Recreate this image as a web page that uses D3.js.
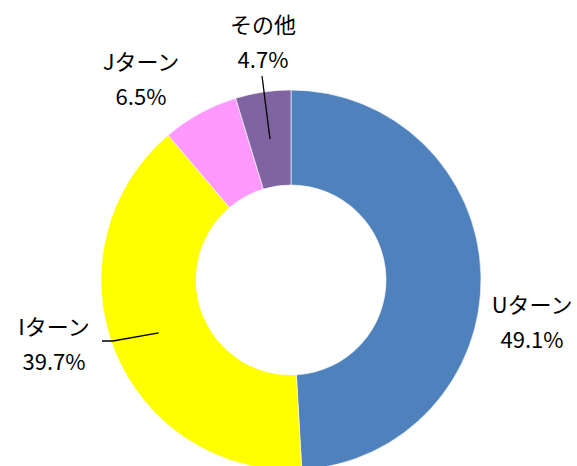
<!DOCTYPE html>
<html>
<head>
<meta charset="utf-8">
<script src="https://cdn.jsdelivr.net/npm/d3@7"></script>
<style>
  html, body { margin: 0; padding: 0; background: #fff; }
  svg text { font-family: "Noto Sans CJK JP", "Noto Sans", sans-serif; fill: #000; }
</style>
</head>
<body>
<div id="chart"></div>
<script>
// --- data ---
const categories = ["Uターン", "Iターン", "Jターン", "その他"];
const shares     = [49.1, 39.7, 6.5, 4.7];
const colors     = ["#4F81BD", "#FFFF00", "#FF99FF", "#8064A2"];

const width = 577, height = 466;
const cx = 291, cy = 280;
const outerR = 190, innerR = 95;

// where each label block sits (relative to the centre), and leader line elbows
const labelAt = [
  {x: 241, y: 40,   line: null},
  {x: -237, y: 62,  line: [[-178, 61], [-189, 61]]},
  {x: -150, y: -203, line: null},
  {x: -28, y: -240, line: [[-29, -204]]}
];

const svg = d3.select("#chart").append("svg")
  .attr("width", width).attr("height", height);

const g = svg.append("g").attr("transform", `translate(${cx},${cy})`);

const pie = d3.pie().sort(null).value(d => d);
const arcs = pie(shares);
const arc = d3.arc().innerRadius(innerR).outerRadius(outerR);

g.selectAll("path.slice")
  .data(arcs)
  .join("path")
    .attr("class", "slice")
    .attr("d", arc)
    .attr("fill", (d, i) => colors[i])
    .attr("stroke", "#fff")
    .attr("stroke-width", 0.6);

// leader lines from slice centroid
arcs.forEach((d, i) => {
  const l = labelAt[i].line;
  if (!l) return;
  const pts = [arc.centroid(d), ...l];
  g.append("path")
    .attr("d", d3.line()(pts))
    .attr("fill", "none")
    .attr("stroke", "#000")
    .attr("stroke-width", 1.3);
});

// labels
const lab = g.selectAll("g.label")
  .data(arcs)
  .join("g")
    .attr("class", "label")
    .attr("transform", (d, i) => `translate(${labelAt[i].x},${labelAt[i].y})`);

lab.append("text")
  .attr("text-anchor", "middle")
  .attr("dominant-baseline", "central")
  .attr("y", -17)
  .style("font-size", "22px")
  .text((d, i) => categories[i]);

lab.append("text")
  .attr("text-anchor", "middle")
  .attr("dominant-baseline", "central")
  .attr("y", 18)
  .style("font-size", "22px")
  .text(d => d.data.toFixed(1) + "%");
</script>
</body>
</html>
